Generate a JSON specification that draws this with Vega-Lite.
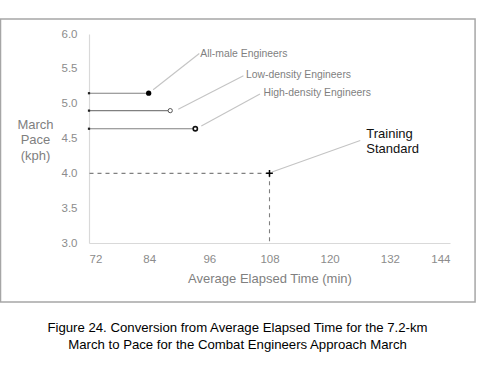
{
  "$schema": "https://vega.github.io/schema/vega-lite/v6.json",
  "autosize": {"type": "none"},
  "padding": {"left": 89, "top": 34, "right": 36, "bottom": 122},
  "width": 361,
  "height": 209,
  "background": "white",
  "config": {
    "font": "Liberation Sans",
    "view": {"stroke": null},
    "axis": {"grid": false, "ticks": false, "domainColor": "#d9d9d9", "domainWidth": 1.2, "labelColor": "#8c8c8c", "labelFontSize": 11.5, "titleColor": "#7f7f7f", "titleFontWeight": "normal", "titleFontSize": 13}
  },
  "title": {
    "text": ["Figure 24. Conversion from Average Elapsed Time for the 7.2-km", "March to Pace for the Combat Engineers Approach March"],
    "orient": "bottom",
    "anchor": "middle",
    "dx": -32,
    "offset": 19,
    "fontSize": 13.2,
    "fontWeight": "normal",
    "color": "#000000",
    "lineHeight": 17
  },
  "datasets": {
    "frame": [{"box": "frame"}],
    "series": [
      {"group": "All-male Engineers", "time": 83.9, "pace": 5.15},
      {"group": "Low-density Engineers", "time": 88.2, "pace": 4.9},
      {"group": "High-density Engineers", "time": 93.2, "pace": 4.64}
    ],
    "leaders": [
      {"group": "All-male Engineers", "x1": 84.8, "y1": 5.2, "x2": 94.0, "y2": 5.72, "tx": 94.2, "ty": 5.72},
      {"group": "Low-density Engineers", "x1": 89.8, "y1": 4.92, "x2": 102.8, "y2": 5.4, "tx": 103.3, "ty": 5.41},
      {"group": "High-density Engineers", "x1": 94.4, "y1": 4.68, "x2": 106.1, "y2": 5.14, "tx": 106.8, "ty": 5.15}
    ],
    "standard": [
      {"label": "Training\nStandard", "time": 108, "pace": 4.0, "x1": 108.5, "y1": 4.02, "x2": 126.1, "y2": 4.47, "tx": 127.3, "ty": 4.565}
    ]
  },
  "data": {"name": "series"},
  "encoding": {
    "x": {"type": "quantitative", "scale": {"domain": [72, 144], "nice": false, "zero": false}, "axis": {"values": [72, 84, 96, 108, 120, 132, 144], "title": "Average Elapsed Time (min)", "labelPadding": 10, "titlePadding": 8}},
    "y": {"type": "quantitative", "scale": {"domain": [3, 6], "nice": false, "zero": false}, "axis": {"values": [3, 3.5, 4, 4.5, 5, 5.5, 6], "format": ".1f", "labelPadding": 12, "title": ["March", "Pace", "(kph)"], "titleAngle": 0, "titleAlign": "center", "titleBaseline": "middle", "titleX": -54, "titleY": 90, "titleLineHeight": 15.5}}
  },
  "layer": [
    {
      "data": {"name": "frame"},
      "mark": {"type": "rect", "fill": "transparent", "stroke": "#a6a6a6", "strokeWidth": 1.5},
      "encoding": {
        "x": {"datum": 54.35, "type": "quantitative"},
        "x2": {"datum": 149.0},
        "y": {"datum": 6.215, "type": "quantitative"},
        "y2": {"datum": 2.153}
      }
    },
    {
      "mark": {"type": "rule", "color": "#808080", "strokeWidth": 1.1},
      "encoding": {
        "x": {"field": "time", "type": "quantitative"},
        "x2": {"datum": 72},
        "y": {"field": "pace", "type": "quantitative"}
      }
    },
    {
      "mark": {"type": "point", "shape": "square", "filled": true, "color": "#222222", "size": 5, "opacity": 1},
      "encoding": {
        "x": {"datum": 72, "type": "quantitative"},
        "y": {"field": "pace", "type": "quantitative"}
      }
    },
    {
      "data": {"name": "leaders"},
      "mark": {"type": "rule", "color": "#c4c4c4", "strokeWidth": 1.1},
      "encoding": {
        "x": {"field": "x1", "type": "quantitative"},
        "y": {"field": "y1", "type": "quantitative"},
        "x2": {"field": "x2"},
        "y2": {"field": "y2"}
      }
    },
    {
      "data": {"name": "leaders"},
      "mark": {"type": "text", "align": "left", "baseline": "middle", "fontSize": 10.4, "color": "#7f7f7f"},
      "encoding": {
        "x": {"field": "tx", "type": "quantitative"},
        "y": {"field": "ty", "type": "quantitative"},
        "text": {"field": "group"}
      }
    },
    {
      "transform": [{"filter": "datum.group === 'All-male Engineers'"}],
      "mark": {"type": "point", "shape": "circle", "filled": true, "color": "#000000", "size": 28, "opacity": 1},
      "encoding": {
        "x": {"field": "time", "type": "quantitative"},
        "y": {"field": "pace", "type": "quantitative"}
      }
    },
    {
      "transform": [{"filter": "datum.group === 'Low-density Engineers'"}],
      "mark": {"type": "point", "shape": "circle", "fill": "white", "stroke": "#555555", "strokeWidth": 1, "size": 18, "opacity": 1},
      "encoding": {
        "x": {"field": "time", "type": "quantitative"},
        "y": {"field": "pace", "type": "quantitative"}
      }
    },
    {
      "transform": [{"filter": "datum.group === 'High-density Engineers'"}],
      "mark": {"type": "point", "shape": "circle", "fill": "white", "stroke": "#111111", "strokeWidth": 1.6, "size": 18, "opacity": 1},
      "encoding": {
        "x": {"field": "time", "type": "quantitative"},
        "y": {"field": "pace", "type": "quantitative"}
      }
    },
    {
      "data": {"name": "standard"},
      "mark": {"type": "rule", "color": "#808080", "strokeWidth": 1.1, "strokeDash": [4, 4]},
      "encoding": {
        "x": {"field": "time", "type": "quantitative"},
        "x2": {"datum": 72},
        "y": {"field": "pace", "type": "quantitative"}
      }
    },
    {
      "data": {"name": "standard"},
      "mark": {"type": "rule", "color": "#808080", "strokeWidth": 1.1, "strokeDash": [4, 4]},
      "encoding": {
        "x": {"field": "time", "type": "quantitative"},
        "y": {"field": "pace", "type": "quantitative"},
        "y2": {"datum": 3}
      }
    },
    {
      "data": {"name": "standard"},
      "mark": {"type": "rule", "color": "#c4c4c4", "strokeWidth": 1.1},
      "encoding": {
        "x": {"field": "x1", "type": "quantitative"},
        "y": {"field": "y1", "type": "quantitative"},
        "x2": {"field": "x2"},
        "y2": {"field": "y2"}
      }
    },
    {
      "data": {"name": "standard"},
      "mark": {"type": "point", "shape": "M-1,0L1,0M0,-1L0,1", "filled": false, "stroke": "#000000", "strokeWidth": 1.5, "size": 45, "opacity": 1},
      "encoding": {
        "x": {"field": "time", "type": "quantitative"},
        "y": {"field": "pace", "type": "quantitative"}
      }
    },
    {
      "data": {"name": "standard"},
      "mark": {"type": "text", "align": "left", "baseline": "middle", "fontSize": 13, "color": "#111111", "lineBreak": "\n", "lineHeight": 14.7},
      "encoding": {
        "x": {"field": "tx", "type": "quantitative"},
        "y": {"field": "ty", "type": "quantitative"},
        "text": {"field": "label"}
      }
    }
  ]
}
